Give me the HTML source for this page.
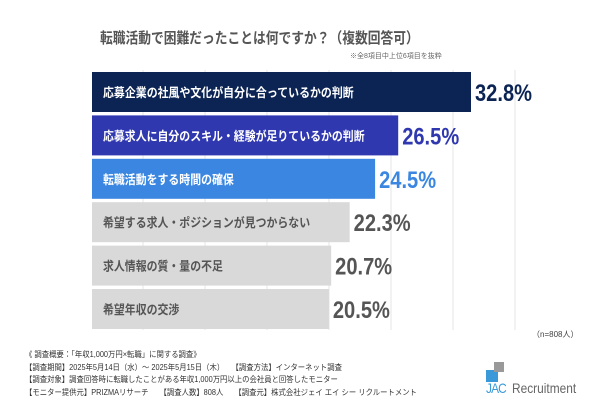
<!DOCTYPE html>
<html><head><meta charset="utf-8"><style>
body{margin:0;width:600px;height:400px;background:#fff;font-family:"Liberation Sans","Noto Sans CJK JP",sans-serif;overflow:hidden;position:relative}
.t{position:absolute;white-space:nowrap}
</style></head><body>
<div class="t" style="left:100px;top:27px;font-size:15px;font-weight:bold;color:#555;transform:scaleX(0.85);transform-origin:0 0">転職活動で困難だったことは何ですか？（複数回答可）</div>
<div class="t" style="left:350px;top:51px;font-size:7px;color:#666">※全8項目中上位6項目を抜粋</div>
<svg id="chart" width="600" height="400" style="position:absolute;left:0;top:0"></svg>
<div class="t" style="left:532px;top:329px;font-size:8px;color:#444">（n=808人）</div>
<div class="t" style="left:25px;top:349px;font-size:8px;line-height:12.5px;color:#333;transform:scaleX(0.92);transform-origin:0 0">《 調査概要：「年収1,000万円×転職」に関する調査》<br>【調査期間】2025年5月14日（水）～ 2025年5月15日（木）　　【調査方法】インターネット調査<br>【調査対象】調査回答時に転職したことがある年収1,000万円以上の会社員と回答したモニター<br>【モニター提供元】PRIZMAリサーチ　　【調査人数】808人　　【調査元】株式会社ジェイ エイ シー リクルートメント</div>
<div style="position:absolute;left:486px;top:360px;width:110px;height:40px">
<div style="position:absolute;left:0;top:10px;width:12px;height:12px;background:#3a9ad9"></div>
<div style="position:absolute;left:8px;top:2px;width:10px;height:10px;background:#999"></div>
<div class="t" style="left:0;top:20px;font-size:14px;color:#3a9ad9;letter-spacing:-1px;transform:scaleX(0.85);transform-origin:0 0">JAC</div>
<div class="t" style="left:26px;top:20px;font-size:14px;color:#666;transform:scaleX(0.85);transform-origin:0 0">Recruitment</div>
</div>
<script>
const categories=["応募企業の社風や文化が自分に合っているかの判断","応募求人に自分のスキル・経験が足りているかの判断","転職活動をする時間の確保","希望する求人・ポジションが見つからない","求人情報の質・量の不足","希望年収の交渉"];
const values=[32.8,26.5,24.5,22.3,20.7,20.5];
const labels=["32.8%","26.5%","24.5%","22.3%","20.7%","20.5%"];
const colors=["#0b2454","#3038b0","#3a86e0","#d9d9d9","#d9d9d9","#d9d9d9"];
const textColors=["#fff","#fff","#fff","#555","#555","#555"];
const valColors=["#0b2454","#3038b0","#3a86e0","#555","#555","#555"];
const svg=document.getElementById('chart');const NS='http://www.w3.org/2000/svg';
const x0=92,scale=379/32.8;
const xs=v=>x0+v*scale;
const ys=i=>72+i*43.4;
function mk(t,a){const e=document.createElementNS(NS,t);for(const k in a)e.setAttribute(k,a[k]);svg.appendChild(e);return e;}
for(let k=0;k<7;k++){const g=mk('line',{x1:143+62*k,x2:143+62*k,y1:70,y2:330,stroke:'#e4e4e4','stroke-width':1});

}
values.forEach((v,i)=>{
const r=mk('rect',{x:x0,y:ys(i),width:xs(v)-x0,height:40,fill:colors[i]});


const t=mk('text',{x:x0+11,y:ys(i)+25,'font-size':12.5,'font-weight':'bold',fill:textColors[i],textLength:categories[i].length*10.9,lengthAdjust:'spacingAndGlyphs'});t.textContent=categories[i];


const vt=mk('text',{x:xs(v)+4,y:ys(i)+29,'font-size':24,'font-weight':'bold',fill:valColors[i],textLength:57,lengthAdjust:'spacingAndGlyphs'});vt.textContent=labels[i];


});
</script>
</body></html>
